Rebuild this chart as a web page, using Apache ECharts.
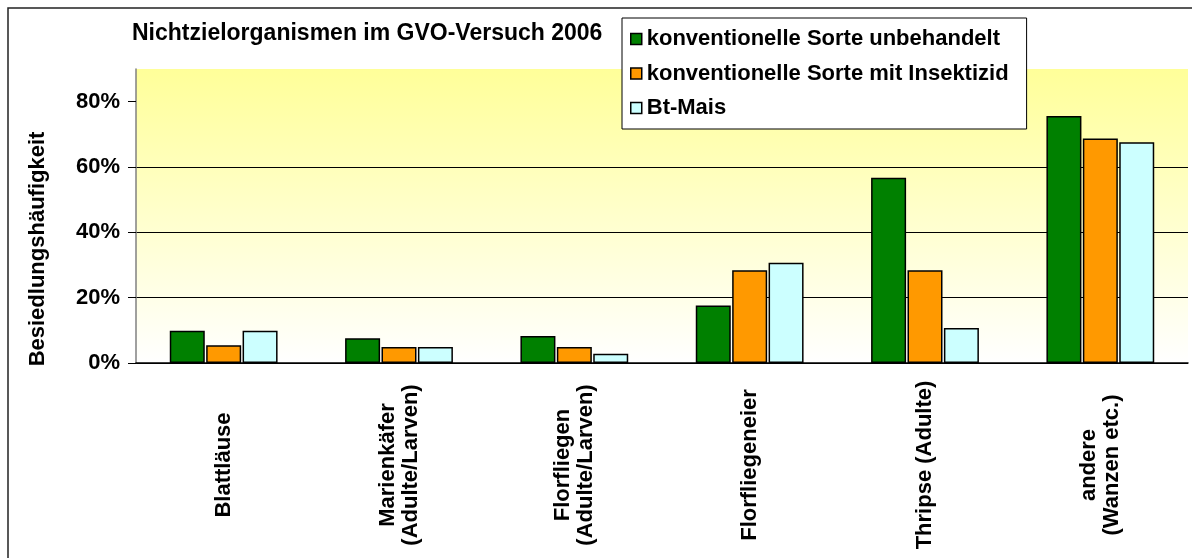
<!DOCTYPE html>
<html>
<head>
<meta charset="utf-8">
<script src="https://cdn.jsdelivr.net/npm/echarts@6/dist/echarts.min.js"></script>
<style>
  html, body { margin: 0; padding: 0; background: #fff; }
  #chart { width: 1192px; height: 558px; }
</style>
</head>
<body>
<div id="chart"></div>
<script>
// Kategorien (x-Achse)
const categories = [
  'Blattläuse',
  'Marienkäfer\n(Adulte/Larven)',
  'Florfliegen\n(Adulte/Larven)',
  'Florfliegeneier',
  'Thripse (Adulte)',
  'andere\n(Wanzen etc.)'
];
// Besiedlungshäufigkeit in %
const unbehandelt = [9.9, 7.6, 8.3, 17.6, 56.7, 75.6];
const mitInsektizid = [5.4, 4.9, 4.9, 28.4, 28.4, 68.7];
const btMais = [9.9, 4.9, 2.8, 30.7, 10.7, 67.6];
const yTicks = [0, 20, 40, 60, 80];

const font = 'Liberation Sans, Arial, sans-serif';

let myChart = echarts.init(document.getElementById('chart'));

function barSeries(name, data, color) {
  return {
    name: name,
    type: 'bar',
    data: data,
    barWidth: 35,
    barGap: '4%',
    itemStyle: {
      color: color,
      borderColor: '#000',
      borderWidth: 1.5
    }
  };
}

let option = {
  animation: false,
  textStyle: { fontFamily: font },
  grid: {
    left: 136,
    right: 4,
    top: 69,
    bottom: 195,
    show: true,
    borderWidth: 0,
    backgroundColor: new echarts.graphic.LinearGradient(0, 0, 0, 1, [
      { offset: 0, color: '#ffff99' },
      { offset: 1, color: '#ffffff' }
    ])
  },
  legend: {
    orient: 'vertical',
    left: 622,
    top: 18,
    backgroundColor: '#fff',
    borderColor: '#000',
    borderWidth: 1,
    padding: [10, 18, 10, 8],
    itemGap: 12.5,
    itemWidth: 11,
    itemHeight: 11,
    icon: 'rect',
    itemStyle: { borderColor: '#000', borderWidth: 1.5 },
    textStyle: {
      fontFamily: font,
      fontSize: 22,
      fontWeight: 'bold',
      color: '#000',
      lineHeight: 22
    }
  },
  xAxis: {
    type: 'category',
    data: categories,
    axisLine: { lineStyle: { color: '#000', width: 1.5 } },
    axisTick: { length: 6, lineStyle: { color: '#808080', width: 1.5 } },
    axisLabel: {
      rotate: 90,
      interval: 0,
      margin: 102,
      align: 'center',
      verticalAlign: 'middle',
      fontFamily: font,
      fontSize: 22,
      fontWeight: 'bold',
      color: '#000',
      lineHeight: 23
    }
  },
  yAxis: {
    type: 'value',
    min: 0,
    max: 90,
    interval: 20,
    axisLine: { show: true, lineStyle: { color: '#808080', width: 1.5 } },
    axisTick: { show: true, length: 8, customValues: yTicks, lineStyle: { color: '#000' } },
    axisLabel: {
      customValues: yTicks,
      margin: 16,
      formatter: '{value}%',
      fontFamily: font,
      fontSize: 22,
      fontWeight: 'bold',
      color: '#000'
    },
    splitLine: { show: true, showMaxLine: false, lineStyle: { color: '#000', width: 1 } }
  },
  graphic: [
    {
      type: 'rect',
      shape: { x: 8, y: 8, width: 1200, height: 600 },
      style: { fill: 'none', stroke: '#222', lineWidth: 1.5 },
      silent: true, z: -1
    },
    {
      type: 'text',
      left: 132, top: 22,
      style: {
        text: 'Nichtzielorganismen im GVO-Versuch 2006',
        font: 'bold 23px ' + font,
        fill: '#000'
      }
    },
    {
      type: 'text',
      x: 38, y: 249,
      rotation: Math.PI / 2,
      style: {
        text: 'Besiedlungshäufigkeit',
        font: 'bold 22px ' + font,
        fill: '#000',
        align: 'center',
        verticalAlign: 'middle'
      }
    }
  ],
  series: [
    barSeries('konventionelle Sorte unbehandelt', unbehandelt, '#008000'),
    barSeries('konventionelle Sorte mit Insektizid', mitInsektizid, '#ff9900'),
    barSeries('Bt-Mais', btMais, '#ccffff')
  ]
};

myChart.setOption(option, true);
</script>
</body>
</html>
